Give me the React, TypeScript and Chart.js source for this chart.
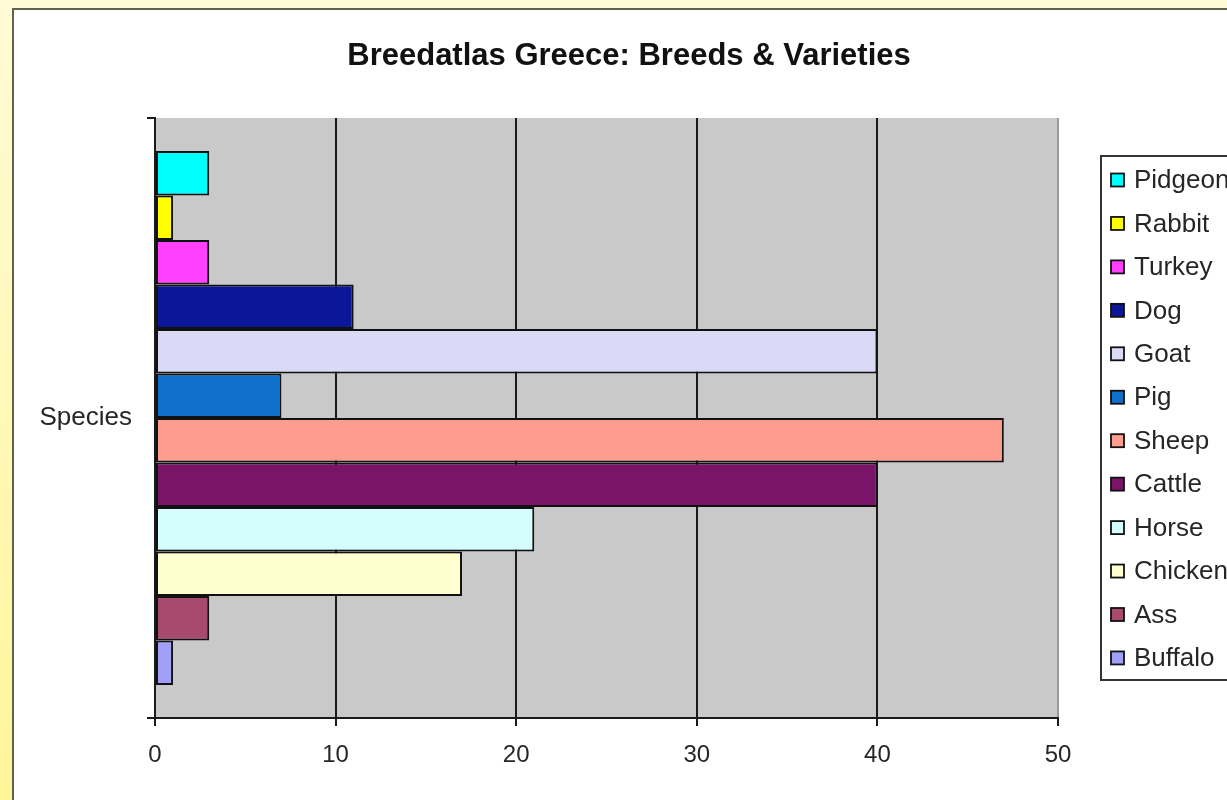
import React, { useEffect, useRef } from "react";
import { Chart, registerables } from "chart.js";

Chart.register(...registerables);

const TITLE = "Breedatlas Greece: Breeds & Varieties";
const CATEGORIES = ["Species"];
const SERIES_NAMES = ["Pidgeon", "Rabbit", "Turkey", "Dog", "Goat", "Pig", "Sheep", "Cattle", "Horse", "Chicken", "Ass", "Buffalo"];
const SERIES_VALUES = [3, 1, 3, 11, 40, 7, 47, 40, 21, 17, 3, 1];
const SERIES_COLORS = [
  "#00FFFF", "#FFFF00", "#FF40FF", "#0B1796", "#DADAF7", "#0E70C8",
  "#FF9C90", "#7A1468", "#D4FEFE", "#FFFFD0", "#A84A6C", "#A0A0F8",
];
const X_MIN = 0;
const X_MAX = 50;
const X_STEP = 10;

const FONT = '"Liberation Sans", Arial, sans-serif';
const TEXT = "#262626";
const PLOT_BG = "#C9C9C9";

const framePlugin = {
  id: "excelFrame",
  beforeDraw(chart: any) {
    const { ctx, chartArea } = chart;
    ctx.save();
    ctx.fillStyle = PLOT_BG;
    ctx.fillRect(chartArea.left, chartArea.top, chartArea.right - chartArea.left, chartArea.bottom - chartArea.top);
    ctx.restore();
  },
  afterDraw(chart: any) {
    const { ctx } = chart;
    ctx.save();
    // title
    ctx.fillStyle = "#111";
    ctx.font = `bold 31px ${FONT}`;
    ctx.textAlign = "center";
    ctx.textBaseline = "middle";
    ctx.fillText(TITLE, 629, 56);

    // legend box
    const boxLeft = 1101, boxTop = 156, boxBottom = 680;
    ctx.strokeStyle = "#333";
    ctx.lineWidth = 2;
    ctx.strokeRect(boxLeft, boxTop, 200, boxBottom - boxTop);
    const startY = 180, step = 43.45;
    ctx.font = `26px ${FONT}`;
    ctx.textAlign = "left";
    chart.data.datasets.forEach((ds: any, i: number) => {
      const y = startY + i * step;
      ctx.fillStyle = ds.backgroundColor;
      ctx.fillRect(1111, y - 6.5, 13, 13);
      ctx.strokeStyle = "#111";
      ctx.lineWidth = 1.8;
      ctx.strokeRect(1111, y - 6.5, 13, 13);
      ctx.fillStyle = TEXT;
      ctx.fillText(ds.label, 1134, y + 1);
    });
    ctx.restore();
  },
};

export default function App() {
  const ref = useRef<HTMLCanvasElement | null>(null);

  useEffect(() => {
    if (!ref.current) return;
    const chart = new Chart(ref.current, {
      type: "bar",
      data: {
        labels: CATEGORIES,
        datasets: SERIES_NAMES.map((name, i) => ({
          label: name,
          data: [SERIES_VALUES[i]],
          backgroundColor: SERIES_COLORS[i],
          borderColor: "#111",
          borderWidth: 2,
          borderSkipped: false,
          categoryPercentage: 0.89,
          barPercentage: 1,
        })),
      },
      options: {
        indexAxis: "y",
        responsive: false,
        animation: false,
        layout: { padding: { top: 118, right: 169, bottom: 0, left: 0 } },
        plugins: {
          legend: { display: false },
          title: { display: false },
          tooltip: { enabled: false },
        },
        scales: {
          x: {
            type: "linear",
            min: X_MIN,
            max: X_MAX,
            ticks: { stepSize: X_STEP, color: TEXT, font: { size: 24, family: FONT }, padding: 15 },
            grid: {
              color: (c: any) => (c.tick && c.tick.value === X_MAX ? "#9a9a9a" : "#1a1a1a"),
              lineWidth: 2,
              tickLength: 8,
              tickColor: "#1a1a1a",
            },
            border: { color: "#1a1a1a", width: 2 },
            afterFit: (s: any) => { s.height = 82; },
          },
          y: {
            type: "category",
            offset: true,
            ticks: { color: TEXT, font: { size: 26, family: FONT }, padding: 15 },
            grid: {
              offset: true,
              drawOnChartArea: false,
              tickLength: 8,
              color: "#1a1a1a",
              lineWidth: 2,
            },
            border: { color: "#1a1a1a", width: 2 },
            afterFit: (s: any) => { s.width = 155; },
          },
        },
      },
      plugins: [framePlugin],
    } as any);
    return () => chart.destroy();
  }, []);

  return (
    <div
      style={{
        position: "fixed",
        left: 0,
        top: 0,
        width: 1227,
        height: 800,
        overflow: "hidden",
        background: "linear-gradient(to bottom, #FFFBD6, #FFF59A)",
      }}
    >
      <div
        style={{
          position: "absolute",
          left: 12,
          top: 8,
          width: 1260,
          height: 820,
          background: "#FFFFFF",
          border: "2px solid #62624a",
          boxSizing: "border-box",
        }}
      />
      <canvas
        ref={ref}
        width={1227}
        height={800}
        style={{ position: "absolute", left: 0, top: 0, width: 1227, height: 800 }}
      />
    </div>
  );
}
